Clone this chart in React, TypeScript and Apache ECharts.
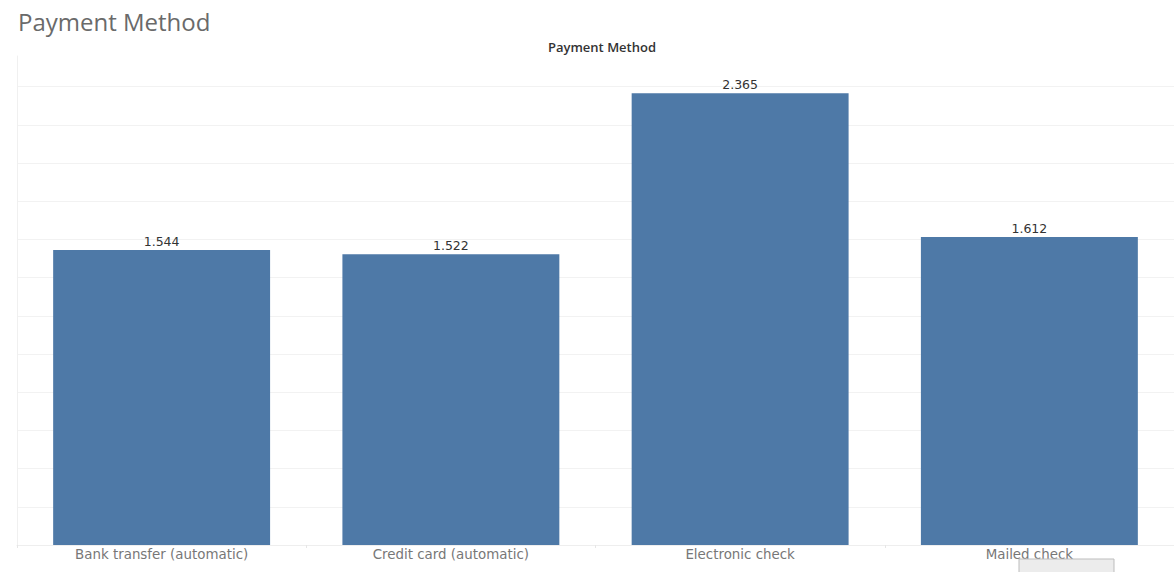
import React, { useEffect, useRef } from "react";
import * as echarts from "echarts";

const categories = [
  "Bank transfer (automatic)",
  "Credit card (automatic)",
  "Electronic check",
  "Mailed check",
];
const values = [1.544, 1.522, 2.365, 1.612];
const chartTitle = "Payment Method";
const axisTitle = "Payment Method";

export default function App() {
  const ref = useRef<HTMLDivElement>(null);
  useEffect(() => {
    if (!ref.current) return;
    const chart = echarts.init(ref.current, undefined, { renderer: "svg" });
    chart.setOption({
      animation: false,
      backgroundColor: "#ffffff",
      textStyle: { fontFamily: "Open Sans" },
      title: [
        {
          text: chartTitle,
          left: 13,
          top: 4,
          textStyle: { fontSize: 24, fontWeight: "normal", color: "#6a6a6a", fontFamily: "Open Sans" },
        },
        {
          text: axisTitle,
          left: 597,
          textAlign: "center",
          top: 35,
          textStyle: { fontSize: 13, fontWeight: 600, color: "#333333", fontFamily: "Open Sans" },
        },
      ],
      grid: { left: 17, right: -3, top: 56, bottom: 27, containLabel: false },
      xAxis: {
        type: "category",
        data: categories,
        axisLine: { show: true, lineStyle: { color: "#eeeeee", width: 1 } },
        axisTick: { show: true, length: 3, lineStyle: { color: "#e6e6e6" } },
        axisLabel: { color: "#777777", fontSize: 13.4, margin: 3, fontFamily: "DejaVu Sans" },
        splitLine: { show: false },
      },
      yAxis: {
        type: "value",
        min: 0,
        max: 2.56,
        interval: 0.2,
        axisLine: { show: true, lineStyle: { color: "#f0f0f0", width: 1 } },
        axisTick: { show: false },
        axisLabel: { show: false },
        splitLine: {
          show: true,
          lineStyle: { color: "#f2f2f2", width: 1 },
          showMaxLine: false,
        },
      },
      series: [
        {
          type: "bar",
          data: values,
          barCategoryGap: "25%",
          itemStyle: { color: "#4e79a7" },
          label: {
            show: true,
            position: "top",
            distance: 2,
            color: "#333333",
            fontSize: 12.5,
            fontFamily: "DejaVu Sans",
            formatter: (p: any) => p.value.toFixed(3),
          },
        },
      ],
      graphic: [
        {
          type: "rect",
          shape: { x: 1019, y: 559, width: 95, height: 16 },
          style: { fill: "#ececec", stroke: "#bdbdbd", lineWidth: 1 },
          z: 100,
        },
      ],
    });
    return () => chart.dispose();
  }, []);
  return (
    <div
      ref={ref}
      style={{ position: "fixed", left: 0, top: 0, width: 1174, height: 572 }}
    />
  );
}
